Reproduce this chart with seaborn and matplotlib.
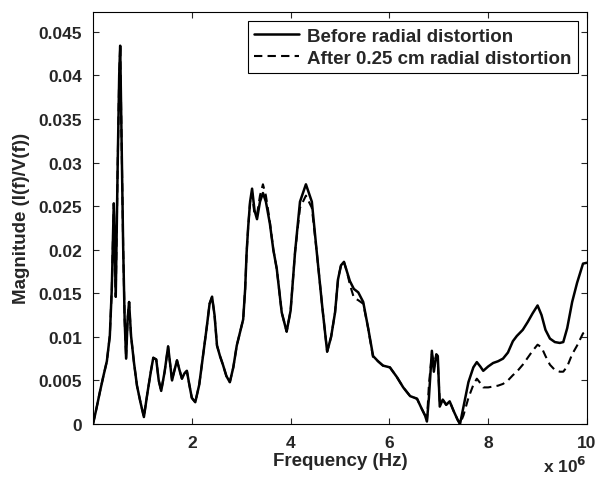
import numpy as np
import pandas as pd
import seaborn as sns
import matplotlib.pyplot as plt

# frequency points (MHz)
freq_mhz = [0.00, 0.07, 0.14, 0.21, 0.28, 0.34, 0.38, 0.42, 0.44, 0.46,
            0.50, 0.53, 0.55, 0.58, 0.61, 0.64, 0.67, 0.70, 0.73, 0.77,
            0.83, 0.89, 0.96, 1.03, 1.10, 1.17, 1.22, 1.28, 1.33, 1.38,
            1.45, 1.52, 1.56, 1.60, 1.65, 1.70, 1.75, 1.80, 1.85, 1.90,
            1.95, 2.00, 2.07, 2.15, 2.22, 2.30, 2.36, 2.41, 2.46, 2.51,
            2.57, 2.63, 2.70, 2.77, 2.84, 2.91, 2.98, 3.04, 3.08, 3.11,
            3.14, 3.18, 3.22, 3.27, 3.32, 3.38, 3.44, 3.50, 3.58, 3.65,
            3.72, 3.82, 3.92, 4.00, 4.09, 4.19, 4.31, 4.43, 4.53, 4.64,
            4.74, 4.82, 4.90, 4.96, 5.02, 5.08, 5.14, 5.20, 5.28, 5.37,
            5.47, 5.57, 5.67, 5.77, 5.87, 6.01, 6.15, 6.28, 6.42, 6.56,
            6.65, 6.72, 6.76, 6.80, 6.86, 6.90, 6.95, 6.98, 7.02, 7.08,
            7.15, 7.22, 7.30, 7.38, 7.43, 7.50, 7.60, 7.70, 7.77, 7.84,
            7.90, 8.00, 8.10, 8.20, 8.30, 8.40, 8.50, 8.58, 8.70, 8.80,
            8.90, 9.00, 9.08, 9.16, 9.25, 9.35, 9.45, 9.52, 9.60, 9.70,
            9.80, 9.92, 10.00]

# Before radial distortion (solid)
before = [0.0000, 0.0018, 0.0037, 0.0055, 0.0072, 0.0101, 0.0155, 0.0253, 0.0200, 0.0146,
          0.0300, 0.0400, 0.0434, 0.0320, 0.0204, 0.0120, 0.0075, 0.0120, 0.0140, 0.0101,
          0.0070, 0.0044, 0.0025, 0.0008, 0.0035, 0.0060, 0.0076, 0.0074, 0.0050, 0.0038,
          0.0060, 0.0089, 0.0070, 0.0050, 0.0062, 0.0073, 0.0062, 0.0052, 0.0058, 0.0061,
          0.0045, 0.0030, 0.0025, 0.0045, 0.0075, 0.0110, 0.0138, 0.0146, 0.0125, 0.0090,
          0.0078, 0.0068, 0.0055, 0.0048, 0.0065, 0.0090, 0.0106, 0.0120, 0.0155, 0.0197,
          0.0225, 0.0255, 0.0270, 0.0245, 0.0235, 0.0255, 0.0265, 0.0255, 0.0230, 0.0200,
          0.0178, 0.0128, 0.0106, 0.0130, 0.0197, 0.0255, 0.0275, 0.0255, 0.0197, 0.0135,
          0.0083, 0.0100, 0.0128, 0.0166, 0.0182, 0.0186, 0.0175, 0.0164, 0.0155, 0.0151,
          0.0140, 0.0110, 0.0078, 0.0072, 0.0067, 0.0065, 0.0054, 0.0042, 0.0032, 0.0029,
          0.0018, 0.0010, 0.0003, 0.0030, 0.0084, 0.0060, 0.0080, 0.0078, 0.0020, 0.0028,
          0.0022, 0.0026, 0.0015, 0.0005, 0.0000, 0.0020, 0.0048, 0.0065, 0.0071, 0.0066,
          0.0061, 0.0066, 0.0070, 0.0072, 0.0075, 0.0082, 0.0095, 0.0101, 0.0108, 0.0117,
          0.0127, 0.0136, 0.0125, 0.0108, 0.0098, 0.0094, 0.0093, 0.0094, 0.0110, 0.0140,
          0.0162, 0.0184, 0.0185]

# After 0.25 cm radial distortion (dashed)
after = [0.0000, 0.0018, 0.0037, 0.0055, 0.0072, 0.0101, 0.0155, 0.0253, 0.0200, 0.0146,
         0.0300, 0.0400, 0.0434, 0.0320, 0.0204, 0.0120, 0.0075, 0.0120, 0.0140, 0.0101,
         0.0070, 0.0044, 0.0025, 0.0008, 0.0035, 0.0060, 0.0076, 0.0074, 0.0050, 0.0038,
         0.0060, 0.0089, 0.0070, 0.0050, 0.0062, 0.0073, 0.0062, 0.0052, 0.0058, 0.0061,
         0.0045, 0.0030, 0.0025, 0.0045, 0.0075, 0.0110, 0.0138, 0.0146, 0.0125, 0.0090,
         0.0078, 0.0068, 0.0055, 0.0048, 0.0065, 0.0090, 0.0106, 0.0120, 0.0155, 0.0197,
         0.0225, 0.0255, 0.0265, 0.0240, 0.0240, 0.0262, 0.0275, 0.0262, 0.0232, 0.0200,
         0.0178, 0.0128, 0.0106, 0.0130, 0.0197, 0.0248, 0.0262, 0.0248, 0.0197, 0.0135,
         0.0083, 0.0100, 0.0128, 0.0166, 0.0182, 0.0186, 0.0175, 0.0160, 0.0145, 0.0142,
         0.0138, 0.0110, 0.0076, 0.0072, 0.0067, 0.0065, 0.0054, 0.0042, 0.0032, 0.0029,
         0.0018, 0.0010, 0.0003, 0.0045, 0.0080, 0.0070, 0.0078, 0.0070, 0.0025, 0.0028,
         0.0022, 0.0026, 0.0015, 0.0005, 0.0000, 0.0010, 0.0030, 0.0045, 0.0052, 0.0047,
         0.0042, 0.0042, 0.0043, 0.0044, 0.0046, 0.0050, 0.0056, 0.0060, 0.0068, 0.0076,
         0.0084, 0.0091, 0.0088, 0.0078, 0.0068, 0.0062, 0.0060, 0.0060, 0.0066, 0.0080,
         0.0090, 0.0104, 0.0107]

xtick_vals = [2e6, 4e6, 6e6, 8e6, 10e6]
xtick_labels = ['2', '4', '6', '8', '10']
ytick_vals = [0, 0.005, 0.01, 0.015, 0.02, 0.025, 0.03, 0.035, 0.04, 0.045]
ytick_labels = ['0', '0.005', '0.01', '0.015', '0.02', '0.025', '0.03', '0.035', '0.04', '0.045']

freq_hz = np.array(freq_mhz) * 1e6
df = pd.DataFrame({'freq': freq_hz, 'before': before, 'after': after})

sns.set_style('ticks')
plt.rcParams['font.family'] = ['Liberation Sans', 'DejaVu Sans']
plt.rcParams['font.weight'] = 'bold'

fig = plt.figure(figsize=(6.06, 4.85), dpi=100)
ax = fig.add_axes([0.1535, 0.1237, 0.8151, 0.8501])

sns.lineplot(data=df, x='freq', y='before', ax=ax, color='black', linewidth=1.8,
             label='Before radial distortion')
sns.lineplot(data=df, x='freq', y='after', ax=ax, color='black', linewidth=1.5,
             linestyle=(0, (4, 2.5)), label='After 0.25 cm radial distortion')

ax.set_xlim(0, 1e7)
ax.set_ylim(0, 0.0473)
ax.set_xticks(xtick_vals)
ax.set_xticklabels(xtick_labels)
ax.set_yticks(ytick_vals)
ax.set_yticklabels(ytick_labels)

ax.set_xlabel('Frequency (Hz)', fontsize=13.5, fontweight='bold', labelpad=1)
ax.set_ylabel('Magnitude (I(f)/V(f))', fontsize=13.5, fontweight='bold', labelpad=6)
ax.text(0.955, -0.075, r'x 10$^{6}$', transform=ax.transAxes, ha='center', va='top',
        fontsize=12.5, fontweight='bold')

# matlab style: ticks inside, on all four sides
ax.tick_params(axis='both', which='both', direction='in', top=True, right=True,
               labelsize=12.5, length=4, width=0.8, pad=8)
for s in ax.spines.values():
    s.set_linewidth(0.8)
    s.set_color('black')

leg = ax.legend(loc='upper right', fontsize=13.5, frameon=True, fancybox=False,
                edgecolor='black', framealpha=1, handlelength=2.4,
                borderaxespad=0.5, borderpad=0.35, labelspacing=0.25, handletextpad=0.4)
leg.get_frame().set_linewidth(0.8)

fig.savefig('out.png', dpi=100)
